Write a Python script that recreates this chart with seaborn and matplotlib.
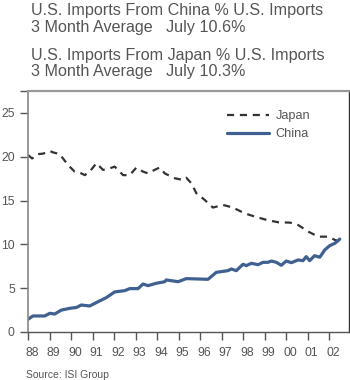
import matplotlib
matplotlib.use('Agg')
import matplotlib.pyplot as plt
import matplotlib.transforms as mtransforms
import seaborn as sns
import pandas as pd

# ---- data ----
tick_years = [1988, 1989, 1990, 1991, 1992, 1993, 1994, 1995, 1996, 1997,
              1998, 1999, 2000, 2001, 2002]
tick_labels = ['88', '89', '90', '91', '92', '93', '94', '95', '96', '97',
               '98', '99', '00', '01', '02']

china_year = [1988.00, 1988.23, 1988.78, 1989.01, 1989.24, 1989.55, 1989.94,
              1990.25, 1990.48, 1990.87, 1991.26, 1991.64, 1992.03, 1992.50,
              1992.73, 1993.12, 1993.35, 1993.58, 1993.97, 1994.36, 1994.43,
              1994.98, 1995.36, 1995.91, 1996.37, 1996.76, 1997.30, 1997.46,
              1997.69, 1998.00, 1998.15, 1998.39, 1998.70, 1998.93, 1999.16,
              1999.32, 1999.55, 1999.78, 2000.01, 2000.25, 2000.56, 2000.79,
              2000.94, 2001.10, 2001.33, 2001.57, 2001.80, 2002.03, 2002.27,
              2002.50]
china_pct = [1.45, 1.83, 1.83, 2.13, 2.05, 2.50, 2.70,
             2.80, 3.08, 2.97, 3.46, 3.92, 4.57, 4.72,
             4.95, 4.95, 5.48, 5.29, 5.56, 5.74, 5.94,
             5.74, 6.09, 6.05, 6.01, 6.81, 7.00, 7.19,
             7.00, 7.73, 7.57, 7.84, 7.68, 7.95, 7.95,
             8.10, 7.95, 7.61, 8.10, 7.91, 8.22, 8.14,
             8.60, 8.14, 8.71, 8.53, 9.36, 9.85, 10.12,
             10.60]

japan_year = [1988.00, 1988.19, 1988.47, 1988.70, 1989.01, 1989.16, 1989.47,
              1989.63, 1989.86, 1990.17, 1990.40, 1990.64, 1990.87, 1991.18,
              1991.49, 1991.72, 1992.03, 1992.19, 1992.42, 1992.73, 1993.04,
              1993.35, 1993.58, 1993.97, 1994.13, 1994.36, 1994.82, 1995.21,
              1995.36, 1995.60, 1995.83, 1996.22, 1996.60, 1997.07, 1997.53,
              1998.07, 1998.56, 1999.10, 1999.64, 2000.19, 2000.57, 2001.04,
              2001.50, 2001.97, 2002.28, 2002.50]
japan_pct = [20.20, 19.80, 20.30, 20.35, 20.66, 20.50, 20.30,
             19.80, 19.06, 18.30, 18.20, 17.90, 18.30, 19.26,
             18.50, 18.60, 18.87, 18.50, 17.90, 17.90, 18.76,
             18.30, 18.10, 18.60, 18.76, 18.10, 17.55, 17.35,
             17.60, 16.97, 15.83, 15.07, 14.20, 14.50, 14.20,
             13.55, 13.16, 12.79, 12.52, 12.48, 12.20, 11.45,
             10.88, 10.88, 10.50, 10.30]

y_ticks = [0, 5, 10, 15, 20, 25, 27.5]
y_tick_labels = ['0', '5', '10', '15', '20', '25', '']

title_lines = ['U.S. Imports From China % U.S. Imports',
               '3 Month Average   July 10.6%',
               'U.S. Imports From Japan % U.S. Imports',
               '3 Month Average   July 10.3%']
source_text = 'Source: ISI Group'

# ---- style ----
sns.set_style('ticks')
plt.rcParams['font.family'] = ['Liberation Sans', 'DejaVu Sans']

TEXT = '#555555'
fig = plt.figure(figsize=(3.5, 3.8), dpi=100)
ax = fig.add_axes([28 / 350, 1 - 332 / 380, 321 / 350, 241 / 380])

japan_df = pd.DataFrame({'year': japan_year, 'pct': japan_pct})
china_df = pd.DataFrame({'year': china_year, 'pct': china_pct})

sns.lineplot(data=japan_df, x='year', y='pct', ax=ax, color='#333333',
             linewidth=1.6, linestyle=(0, (3.2, 2.6)), label='Japan')
sns.lineplot(data=china_df, x='year', y='pct', ax=ax, color='#3f6090',
             linewidth=2.3, label='China')

ax.set_xlim(1988, 2002.93)
ax.set_ylim(0, 27.5)
ax.set_xlabel('')
ax.set_ylabel('')
ax.set_xticks(tick_years)
ax.set_xticklabels(tick_labels)
ax.set_yticks(y_ticks)
ax.set_yticklabels(y_tick_labels)
ax.tick_params(axis='both', direction='out', length=5.5, width=1,
               color='#555555', labelcolor=TEXT, labelsize=8.8)
ax.tick_params(axis='x', pad=5)
ax.tick_params(axis='y', pad=4)
offset = mtransforms.ScaledTranslation(4 / 100, 0, fig.dpi_scale_trans)
for lab in ax.get_xticklabels():
    lab.set_transform(lab.get_transform() + offset)

ax.spines['top'].set_color('#999999')
ax.spines['top'].set_linewidth(1.6)
ax.spines['left'].set_color('#888888')
ax.spines['left'].set_linewidth(1.2)
ax.spines['right'].set_color('#333333')
ax.spines['right'].set_linewidth(1.0)
ax.spines['bottom'].set_color('#555555')
ax.spines['bottom'].set_linewidth(1.0)
for s in ax.spines.values():
    s.set_visible(True)

leg = ax.legend(loc='upper left', bbox_to_anchor=(0.62, 0.92), frameon=False,
                fontsize=9.2, handlelength=3.3, handletextpad=0.5,
                labelspacing=0.45, borderpad=0, borderaxespad=0)
for t in leg.get_texts():
    t.set_color(TEXT)

baselines = [15, 32, 60, 76]
for line, b in zip(title_lines, baselines):
    fig.text(31 / 350, 1 - b / 380, line, fontsize=11.6, color=TEXT,
             ha='left', va='baseline')
fig.text(26 / 350, 1 - 378 / 380, source_text, fontsize=7.5, color=TEXT,
         ha='left', va='baseline')

fig.savefig('out.png', dpi=100)
